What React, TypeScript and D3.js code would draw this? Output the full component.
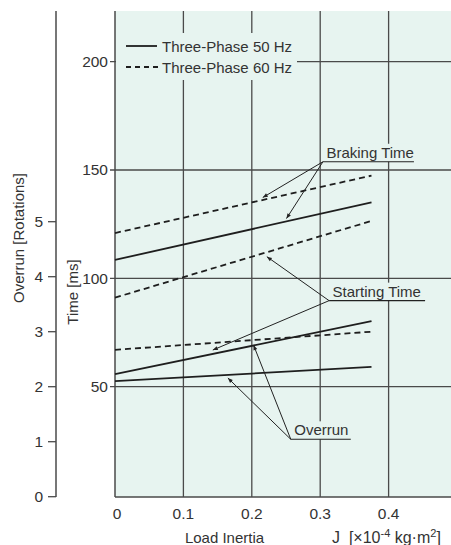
import React from "react";
import * as d3 from "d3";

const W = 451;
const H = 545;

// Data
const loadInertia = [0, 0.375];
const braking50 = [108.5, 135.1];
const braking60 = [120.9, 147.4];
const starting50 = [55.8, 80.2];
const starting60 = [91.1, 126.5];
const overrun50 = [2.1, 2.36];
const overrun60 = [2.67, 3.0];

const xTicks = [0, 0.1, 0.2, 0.3, 0.4];
const timeTicks = [50, 100, 150, 200];
const overrunTicks = [0, 1, 2, 3, 4, 5];

type Ann = { label: string; anchor: [number, number]; targets: [number, number][]; width: number };
const annotations: Ann[] = [
  { label: "Braking Time", anchor: [0.304, 153.8], targets: [[0.216, 137.3], [0.2507, 127.6]], width: 91 },
  { label: "Starting Time", anchor: [0.313, 89.7], targets: [[0.222, 110], [0.143, 66.9]], width: 96 },
  { label: "Overrun", anchor: [0.257, 25.7], targets: [[0.165, 54], [0.2025, 69.2]], width: 60 },
];

const FONT = "'Liberation Sans', Arial, sans-serif";
const TXT = "#333";
const GRID = "#4a4a4a";
const BG = "#e7f4f0";

export default function App() {
  const left = 115;
  const top = 11;
  const bottom = 497;
  const x = d3.scaleLinear().domain([0, 0.5]).range([left, left + 0.5 * 684]);
  const yT = d3.scaleLinear().domain([0, 200]).range([495, 495 - 200 * 2.1667]);
  const yO = d3.scaleLinear().domain([0, 5]).range([496.7, 496.7 - 5 * 55]);

  const lineT = d3
    .line<number>()
    .x((_, i) => x(loadInertia[i]))
    .y((d) => yT(d));
  const lineO = d3
    .line<number>()
    .x((_, i) => x(loadInertia[i]))
    .y((d) => yO(d));

  const series = [
    { d: lineT(braking50), dash: null },
    { d: lineT(braking60), dash: "6,4" },
    { d: lineT(starting50), dash: null },
    { d: lineT(starting60), dash: "6,4" },
    { d: lineO(overrun50), dash: null },
    { d: lineO(overrun60), dash: "6,4" },
  ];

  return (
    <svg
      width={W}
      height={H}
      style={{ position: "absolute", left: 0, top: 0, fontFamily: FONT }}
    >
      <defs>
        <marker id="ah" viewBox="0 0 10 10" refX="10" refY="5" markerWidth="9" markerHeight="5" orient="auto" markerUnits="userSpaceOnUse">
          <path d="M0,1 L10,5 L0,9 z" fill="#222" />
        </marker>
      </defs>
      <rect x={left} y={top} width={W - left} height={bottom - top} fill={BG} />

      {/* vertical gridlines */}
      {xTicks.slice(1).map((t) => (
        <line key={"vx" + t} x1={x(t)} x2={x(t)} y1={top} y2={bottom} stroke={GRID} strokeWidth={1.3} />
      ))}
      {/* horizontal gridlines */}
      {timeTicks.map((t) => (
        <line key={"hy" + t} x1={left - 5} x2={W} y1={yT(t)} y2={yT(t)} stroke={GRID} strokeWidth={1.3} />
      ))}

      {/* plot left & bottom border */}
      <line x1={left} x2={left} y1={top} y2={bottom} stroke={GRID} strokeWidth={1.5} />
      <line x1={left} x2={W} y1={bottom} y2={bottom} stroke={GRID} strokeWidth={1.5} />

      {/* series */}
      {series.map((s, i) => (
        <path key={i} d={s.d || ""} fill="none" stroke="#1e1e1e" strokeWidth={1.8} strokeDasharray={s.dash || undefined} />
      ))}

      {/* legend box */}
      <rect x={left + 1} y={33} width={297 - left - 1} height={47} fill={BG} />
      <line x1={126} x2={157} y1={46} y2={46} stroke="#1e1e1e" strokeWidth={1.8} />
      <text x={162} y={51.5} fontSize={15} fill={TXT}>Three-Phase 50 Hz</text>
      <line x1={126} x2={158} y1={67} y2={67} stroke="#1e1e1e" strokeWidth={1.8} strokeDasharray="5,4" />
      <text x={162} y={72.5} fontSize={15} fill={TXT}>Three-Phase 60 Hz</text>

      {/* annotations */}
      {annotations.map((a) => {
        const ax = x(a.anchor[0]);
        const ay = yT(a.anchor[1]);
        return (
          <g key={a.label}>
            <rect x={ax} y={ay - 18} width={a.width} height={18} fill={BG} />
            {a.targets.map((t, j) => (
              <line key={j} x1={ax} y1={ay} x2={x(t[0])} y2={yT(t[1])} stroke="#222" strokeWidth={1} markerEnd="url(#ah)" />
            ))}
            <line x1={ax} x2={ax + a.width} y1={ay} y2={ay} stroke="#222" strokeWidth={1.1} />
            <text x={ax + 3.5} y={ay - 4} fontSize={15} fill={TXT}>{a.label}</text>
          </g>
        );
      })}

      {/* time axis labels */}
      {timeTicks.map((t) => (
        <text key={"tl" + t} x={108} y={yT(t) + 5.5} textAnchor="end" fontSize={15.5} fill={TXT}>{t}</text>
      ))}
      <text transform={`translate(78,292) rotate(-90)`} textAnchor="middle" fontSize={15} fill={TXT}>Time [ms]</text>

      {/* overrun axis */}
      <line x1={56} x2={56} y1={top} y2={bottom} stroke={GRID} strokeWidth={1.5} />
      {overrunTicks.map((t) => (
        <g key={"ot" + t}>
          <line x1={48} x2={56} y1={yO(t)} y2={yO(t)} stroke={GRID} strokeWidth={1.3} />
          <text x={43} y={yO(t) + 5.5} textAnchor="end" fontSize={15.5} fill={TXT}>{t}</text>
        </g>
      ))}
      <text transform={`translate(24,238) rotate(-90)`} textAnchor="middle" fontSize={15} fill={TXT}>Overrun [Rotations]</text>

      {/* x axis labels */}
      {xTicks.map((t) => (
        <text key={"xl" + t} x={x(t) + (t === 0 ? 2 : 0)} y={519} textAnchor="middle" fontSize={15.5} fill={TXT}>{t === 0 ? "0" : t.toFixed(1)}</text>
      ))}
      <text x={224.5} y={543} textAnchor="middle" fontSize={15} fill={TXT}>Load Inertia</text>
      <text x={332} y={543} fontSize={16} fill={TXT} style={{ whiteSpace: "pre" }}>
        {"J  [×10"}<tspan fontSize={11} dy={-6}>-4</tspan><tspan dy={6}>{" kg·m"}</tspan><tspan fontSize={11} dy={-6}>2</tspan><tspan dy={6}>]</tspan>
      </text>
    </svg>
  );
}
